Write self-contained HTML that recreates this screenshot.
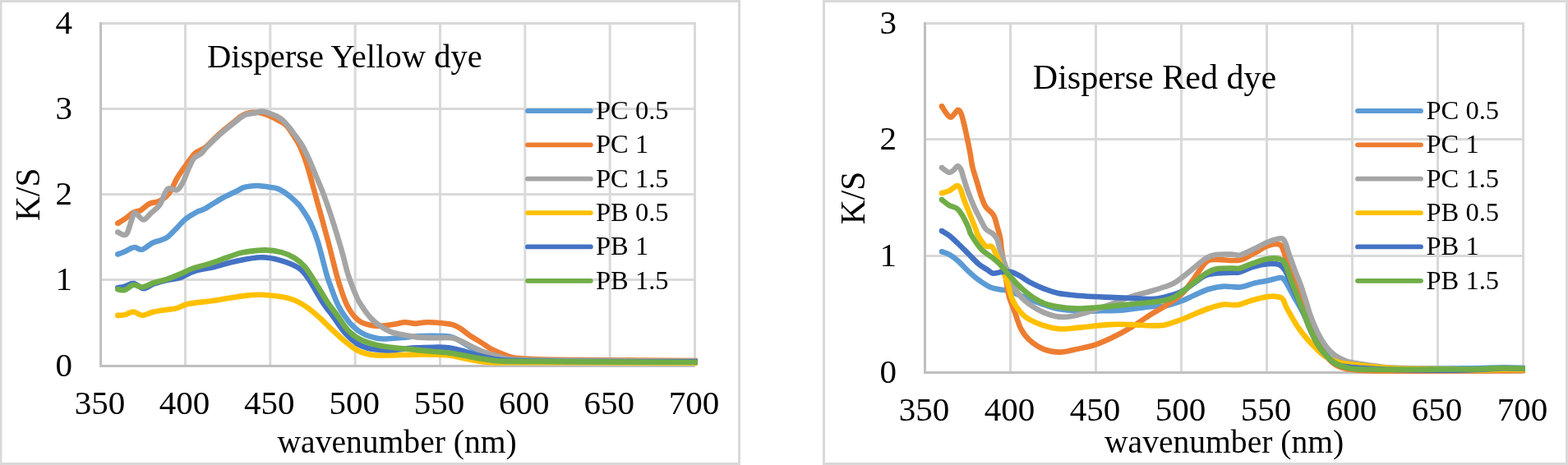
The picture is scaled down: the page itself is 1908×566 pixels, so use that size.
<!DOCTYPE html>
<html><head><meta charset="utf-8"><title>K/S charts</title>
<style>html,body{margin:0;padding:0;background:#fff;width:1908px;height:566px;overflow:hidden}svg{display:block;filter:blur(0.4px)}</style>
</head><body>
<svg width="1908" height="566" viewBox="0 0 1908 566">
<style>
.t{font-family:"Liberation Serif","Times New Roman",serif;font-size:40px;fill:#000}
.l{font-family:"Liberation Serif","Times New Roman",serif;font-size:32.5px;fill:#000}
</style>
<rect width="1908" height="566" fill="#fff"/>
<rect x="1.0" y="1.5" width="898.5" height="563" fill="#fff" stroke="#D9D9D9" stroke-width="3"/>
<line x1="225.50" y1="27.00" x2="225.50" y2="445.50" stroke="#D9D9D9" stroke-width="3"/>
<line x1="328.83" y1="27.00" x2="328.83" y2="445.50" stroke="#D9D9D9" stroke-width="3"/>
<line x1="432.17" y1="27.00" x2="432.17" y2="445.50" stroke="#D9D9D9" stroke-width="3"/>
<line x1="535.50" y1="27.00" x2="535.50" y2="445.50" stroke="#D9D9D9" stroke-width="3"/>
<line x1="638.83" y1="27.00" x2="638.83" y2="445.50" stroke="#D9D9D9" stroke-width="3"/>
<line x1="742.16" y1="27.00" x2="742.16" y2="445.50" stroke="#D9D9D9" stroke-width="3"/>
<line x1="845.50" y1="27.00" x2="845.50" y2="445.50" stroke="#D9D9D9" stroke-width="3"/>
<line x1="122.60" y1="340.40" x2="847.00" y2="340.40" stroke="#D9D9D9" stroke-width="3"/>
<line x1="122.60" y1="236.40" x2="847.00" y2="236.40" stroke="#D9D9D9" stroke-width="3"/>
<line x1="122.60" y1="132.40" x2="847.00" y2="132.40" stroke="#D9D9D9" stroke-width="3"/>
<line x1="122.60" y1="28.50" x2="847.00" y2="28.50" stroke="#D9D9D9" stroke-width="3"/>
<line x1="122.60" y1="27.00" x2="122.60" y2="447.00" stroke="#BFBFBF" stroke-width="3"/>
<line x1="122.60" y1="445.50" x2="845.70" y2="445.50" stroke="#BFBFBF" stroke-width="3"/>
<text x="121.6" y="503.7" text-anchor="middle" class="t" style="font-size:41px">350</text>
<text x="224.5" y="503.7" text-anchor="middle" class="t" style="font-size:41px">400</text>
<text x="327.8" y="503.7" text-anchor="middle" class="t" style="font-size:41px">450</text>
<text x="431.2" y="503.7" text-anchor="middle" class="t" style="font-size:41px">500</text>
<text x="534.5" y="503.7" text-anchor="middle" class="t" style="font-size:41px">550</text>
<text x="637.8" y="503.7" text-anchor="middle" class="t" style="font-size:41px">600</text>
<text x="741.2" y="503.7" text-anchor="middle" class="t" style="font-size:41px">650</text>
<text x="844.5" y="503.7" text-anchor="middle" class="t" style="font-size:41px">700</text>
<text x="88" y="457.9" text-anchor="end" class="t" style="font-size:41px">0</text>
<text x="88" y="352.8" text-anchor="end" class="t" style="font-size:41px">1</text>
<text x="88" y="248.8" text-anchor="end" class="t" style="font-size:41px">2</text>
<text x="88" y="144.8" text-anchor="end" class="t" style="font-size:41px">3</text>
<text x="88" y="40.9" text-anchor="end" class="t" style="font-size:41px">4</text>
<text transform="translate(48.1,236.7) rotate(-90)" text-anchor="middle" class="t" style="font-size:41.5px">K/S</text>
<text x="337.5" y="550.8" class="t" style="font-size:39.6px">wavenumber (nm)</text>
<text x="252" y="82.3" class="t" style="font-size:40.6px">Disperse Yellow dye</text>
<circle cx="143.3" cy="309.5" r="3.3" fill="#5B9BD5"/>
<path d="M143.3,309.5 C144.7,309.0 149.4,307.4 151.8,306.3 C154.2,305.2 155.9,303.9 158.0,303.0 C160.1,302.1 161.7,300.9 164.2,301.0 C166.7,301.1 169.5,304.6 173.0,303.7 C176.5,302.8 181.6,297.6 185.4,295.7 C189.2,293.8 192.8,293.5 196.0,292.2 C199.2,290.9 201.6,290.3 204.8,287.8 C208.0,285.3 211.9,280.8 215.4,277.2 C218.9,273.6 221.9,269.8 226.0,266.5 C230.1,263.2 236.4,259.8 240.2,257.7 C244.0,255.6 244.0,256.9 249.0,254.2 C254.0,251.5 263.6,245.1 270.0,241.5 C276.4,237.9 283.3,234.9 287.7,232.7 C292.1,230.5 293.6,229.1 296.5,228.1 C299.4,227.1 302.2,226.9 305.0,226.6 C307.8,226.2 310.6,226.0 313.3,226.0 C316.0,226.0 318.6,226.5 321.0,226.8 C323.4,227.1 324.7,227.3 327.4,227.7 C330.1,228.1 334.2,228.4 337.1,229.4 C340.1,230.4 342.3,231.6 345.1,233.4 C347.9,235.2 350.9,237.5 353.9,240.0 C356.8,242.5 360.6,246.0 362.8,248.4 C365.1,250.8 364.9,250.3 367.4,254.2 C369.9,258.1 374.7,265.0 378.0,271.8 C381.3,278.6 383.8,284.6 387.0,295.0 C390.2,305.4 394.6,324.3 397.4,334.0 C400.2,343.7 401.9,347.3 404.0,353.0 C406.1,358.7 408.0,363.8 409.8,368.0 C411.6,372.2 413.2,375.0 415.0,378.0 C416.8,381.0 418.5,383.3 420.4,386.0 C422.3,388.7 424.4,391.7 426.5,394.0 C428.6,396.3 430.7,398.2 432.8,400.0 C434.9,401.8 436.9,403.2 439.0,404.5 C441.1,405.8 442.3,406.6 445.1,407.7 C447.9,408.8 452.1,410.2 455.7,411.0 C459.3,411.8 460.9,412.5 466.5,412.5 C472.1,412.5 482.1,411.6 489.5,411.0 C496.9,410.4 502.4,409.3 510.7,409.0 C519.0,408.7 531.9,408.6 539.0,409.0 C546.1,409.4 547.5,409.2 553.1,411.5 C558.7,413.8 566.3,419.2 572.5,422.5 C578.7,425.8 584.3,428.7 590.2,431.0 C596.1,433.3 602.1,435.2 607.9,436.5 C613.7,437.8 609.6,438.0 625.0,438.5 C640.4,439.0 662.7,439.1 700.0,439.3 C737.3,439.5 824.0,439.7 848.8,439.8" fill="none" stroke="#5B9BD5" stroke-width="6.6" stroke-linecap="butt" stroke-linejoin="round"/>
<circle cx="143.3" cy="271.8" r="3.3" fill="#ED7D31"/>
<path d="M143.3,271.8 C144.7,270.9 148.6,268.7 151.8,266.5 C155.0,264.3 159.2,260.4 162.4,258.6 C165.6,256.9 168.0,257.8 171.2,256.0 C174.4,254.2 178.2,249.8 181.8,248.0 C185.4,246.2 189.2,246.6 192.5,245.3 C195.8,244.0 198.7,242.3 201.3,240.0 C204.0,237.7 206.1,235.0 208.4,231.2 C210.8,227.4 212.5,222.0 215.4,217.0 C218.3,212.0 222.5,206.3 226.0,201.3 C229.5,196.3 233.8,190.2 236.6,187.2 C239.4,184.2 240.7,184.7 243.0,183.3 C245.3,181.9 247.6,181.3 250.6,178.8 C253.6,176.3 257.7,171.6 261.2,168.3 C264.7,165.0 268.3,161.8 271.8,158.8 C275.3,155.8 278.9,153.1 282.4,150.3 C285.9,147.5 290.2,143.8 293.0,141.8 C295.8,139.8 296.8,139.1 299.4,138.3 C302.0,137.5 305.8,136.9 308.9,136.8 C312.0,136.7 314.9,136.9 317.9,137.5 C320.9,138.1 323.5,139.2 326.7,140.5 C329.9,141.8 333.4,143.5 337.0,145.5 C340.6,147.5 345.0,149.4 348.3,152.6 C351.6,155.8 354.0,160.2 356.8,164.6 C359.6,168.9 362.4,172.6 365.2,178.7 C368.0,184.8 370.3,190.4 373.7,201.3 C377.1,212.2 381.4,228.8 385.7,244.3 C390.0,259.8 395.4,279.3 399.4,294.5 C403.4,309.7 406.9,324.7 409.8,335.3 C412.7,345.9 414.9,352.1 416.9,358.0 C418.9,363.9 420.2,367.2 422.0,371.0 C423.8,374.8 425.7,377.8 427.5,380.5 C429.3,383.2 431.2,385.2 433.0,387.0 C434.8,388.8 436.3,390.0 438.1,391.2 C439.9,392.4 441.9,393.2 444.0,394.0 C446.1,394.8 448.3,395.3 450.6,395.8 C452.9,396.3 455.4,396.7 458.0,396.8 C460.6,396.9 462.7,396.9 466.5,396.5 C470.3,396.1 476.2,395.2 480.6,394.5 C485.0,393.8 488.9,392.3 493.0,392.2 C497.1,392.1 501.0,393.9 505.4,393.9 C509.8,393.9 514.2,392.3 519.5,392.2 C524.8,392.1 531.9,392.7 537.2,393.2 C542.5,393.7 547.5,394.2 551.3,395.3 C555.1,396.4 557.0,397.7 560.2,399.8 C563.5,401.9 566.7,404.9 570.8,407.7 C574.9,410.5 580.2,413.6 584.9,416.5 C589.6,419.4 594.3,422.9 599.0,425.4 C603.7,427.9 608.8,429.9 613.2,431.6 C617.6,433.3 619.0,434.6 625.5,435.5 C632.0,436.4 638.8,436.8 652.0,437.2 C665.2,437.6 672.2,437.7 705.0,438.0 C737.8,438.3 824.8,438.8 848.8,439.0" fill="none" stroke="#ED7D31" stroke-width="6.6" stroke-linecap="butt" stroke-linejoin="round"/>
<circle cx="143.3" cy="282.5" r="3.3" fill="#A5A5A5"/>
<path d="M143.3,282.5 C144.6,283.1 148.9,286.0 150.9,286.0 C152.9,286.0 153.4,286.6 155.3,282.5 C157.2,278.4 160.6,264.9 162.4,261.2 C164.2,257.5 163.9,259.4 166.0,260.4 C168.1,261.4 171.9,267.5 174.8,267.4 C177.7,267.2 180.4,262.4 183.6,259.5 C186.8,256.6 191.5,253.3 194.2,249.8 C196.8,246.3 197.7,241.7 199.5,238.3 C201.3,234.9 202.2,230.6 204.8,229.4 C207.5,228.2 212.5,232.4 215.4,231.2 C218.3,230.0 220.1,226.4 222.5,222.0 C224.9,217.6 227.5,209.6 229.6,205.0 C231.7,200.4 233.4,196.6 234.9,194.2 C236.4,191.8 236.6,192.0 238.4,190.7 C240.2,189.4 243.5,188.1 245.5,186.3 C247.5,184.5 248.0,182.9 250.6,180.1 C253.2,177.3 257.7,172.8 261.2,169.5 C264.7,166.2 268.3,163.0 271.8,160.0 C275.3,157.0 278.9,154.3 282.4,151.5 C285.9,148.7 290.2,145.0 293.0,143.0 C295.8,141.0 296.8,140.2 299.4,139.3 C302.0,138.4 305.7,138.3 308.9,137.7 C312.1,137.1 315.4,135.6 318.4,135.6 C321.4,135.6 324.1,136.8 326.9,137.7 C329.7,138.6 332.6,139.5 335.4,140.9 C338.2,142.3 341.1,143.7 343.9,146.2 C346.7,148.7 349.9,152.7 352.4,155.7 C354.9,158.7 356.2,160.7 358.7,164.2 C361.2,167.7 364.5,171.5 367.4,176.5 C370.3,181.5 373.2,187.7 376.2,194.2 C379.1,200.7 381.9,207.5 385.1,215.4 C388.4,223.3 392.2,232.1 395.7,241.8 C399.2,251.5 402.8,262.4 406.3,273.6 C409.8,284.8 414.0,298.7 416.9,309.0 C419.8,319.3 421.0,326.4 423.9,335.3 C426.8,344.2 431.8,356.4 434.5,362.5 C437.2,368.6 437.9,368.8 440.0,372.0 C442.1,375.2 444.7,379.2 446.9,382.0 C449.1,384.8 450.6,386.7 453.0,389.0 C455.4,391.3 457.5,393.3 461.2,395.8 C464.9,398.3 470.0,401.8 475.3,403.8 C480.6,405.8 487.7,406.9 493.0,408.0 C498.3,409.1 501.2,409.9 507.1,410.4 C513.0,410.9 521.3,411.1 528.4,411.2 C535.5,411.3 544.3,410.6 549.6,411.2 C554.9,411.8 556.4,413.2 560.2,414.8 C564.0,416.4 567.5,418.6 572.5,421.0 C577.5,423.4 584.3,426.7 590.2,428.9 C596.1,431.1 602.0,432.8 607.9,434.2 C613.8,435.6 610.1,436.7 625.5,437.5 C640.9,438.3 662.8,438.5 700.0,438.8 C737.2,439.1 824.0,439.4 848.8,439.5" fill="none" stroke="#A5A5A5" stroke-width="6.6" stroke-linecap="butt" stroke-linejoin="round"/>
<circle cx="143.3" cy="383.9" r="3.3" fill="#FFC000"/>
<path d="M143.3,383.9 C144.7,383.8 148.6,383.8 151.8,383.1 C155.0,382.4 158.9,379.4 162.4,379.5 C165.9,379.6 168.9,383.9 173.0,383.9 C177.1,383.9 182.1,380.7 187.1,379.5 C192.1,378.3 198.4,377.6 203.1,376.9 C207.8,376.2 211.0,376.3 215.4,375.1 C219.8,373.9 222.5,371.3 229.6,369.8 C236.7,368.3 249.6,367.5 257.8,366.3 C266.0,365.1 272.5,363.7 279.0,362.7 C285.5,361.7 290.2,360.8 296.7,360.1 C303.2,359.5 310.5,358.7 317.9,358.8 C325.3,358.9 335.6,360.4 340.9,361.0 C346.2,361.6 346.2,361.7 349.7,362.7 C353.2,363.7 357.7,364.9 362.1,367.1 C366.5,369.3 371.5,372.3 376.2,375.8 C380.9,379.3 386.0,384.0 390.4,388.0 C394.8,392.0 397.7,395.3 402.7,400.0 C407.7,404.7 415.1,411.6 420.4,416.0 C425.7,420.4 430.1,423.9 434.5,426.3 C438.9,428.8 443.0,429.7 446.9,430.7 C450.8,431.7 453.0,432.2 457.7,432.5 C462.4,432.8 467.9,432.6 475.3,432.5 C482.7,432.4 493.0,431.8 501.8,431.6 C510.6,431.5 521.0,431.5 528.4,431.6 C535.8,431.8 540.1,431.8 546.0,432.5 C551.9,433.2 557.8,434.8 563.7,436.0 C569.6,437.2 575.5,438.6 581.4,439.5 C587.3,440.4 593.1,441.0 599.0,441.3 C604.9,441.6 599.9,441.3 616.7,441.3 C633.5,441.3 661.3,441.2 700.0,441.3 C738.7,441.4 824.0,441.6 848.8,441.6" fill="none" stroke="#FFC000" stroke-width="6.6" stroke-linecap="butt" stroke-linejoin="round"/>
<circle cx="143.3" cy="350.4" r="3.3" fill="#4472C4"/>
<path d="M143.3,350.4 C144.7,350.1 148.6,349.5 151.8,348.6 C155.0,347.7 158.6,344.7 162.4,345.1 C166.2,345.5 170.7,351.1 174.8,351.2 C178.9,351.3 182.4,347.2 187.1,345.5 C191.8,343.8 197.8,342.2 203.1,341.0 C208.4,339.8 213.4,339.8 219.0,338.0 C224.6,336.2 229.5,332.2 236.6,330.0 C243.7,327.8 252.8,326.8 261.4,324.7 C269.9,322.6 278.5,319.6 287.9,317.7 C297.3,315.8 309.1,313.4 317.9,313.3 C326.7,313.2 333.2,314.6 340.9,316.8 C348.6,319.0 358.0,322.5 363.9,326.5 C369.8,330.5 371.5,333.8 376.2,340.6 C380.9,347.4 387.1,359.5 392.1,367.1 C397.1,374.8 401.6,380.0 406.3,386.5 C411.0,393.0 415.7,400.6 420.4,405.9 C425.1,411.2 430.1,415.4 434.5,418.3 C438.9,421.2 443.0,422.4 446.9,423.6 C450.8,424.8 453.0,424.9 457.7,425.4 C462.4,425.8 467.9,426.6 475.3,426.3 C482.7,426.0 493.0,424.2 501.8,423.6 C510.6,423.0 521.0,422.8 528.4,422.7 C535.8,422.6 540.1,422.6 546.0,423.3 C551.9,424.1 557.8,425.7 563.7,427.2 C569.6,428.7 575.5,430.9 581.4,432.5 C587.3,434.1 593.1,435.5 599.0,436.5 C604.9,437.5 599.9,437.9 616.7,438.5 C633.5,439.1 661.3,439.7 700.0,440.0 C738.7,440.3 824.0,440.2 848.8,440.3" fill="none" stroke="#4472C4" stroke-width="6.6" stroke-linecap="butt" stroke-linejoin="round"/>
<circle cx="143.3" cy="352.1" r="3.3" fill="#70AD47"/>
<path d="M143.3,352.1 C144.7,352.2 148.6,353.9 151.8,353.0 C155.0,352.1 158.9,347.4 162.4,346.8 C165.9,346.2 168.9,349.9 173.0,349.5 C177.1,349.1 182.1,345.8 187.1,344.2 C192.1,342.6 197.8,341.6 203.1,339.8 C208.4,338.0 213.7,335.8 219.0,333.6 C224.3,331.4 229.0,328.6 234.9,326.5 C240.8,324.4 247.0,323.6 254.3,321.2 C261.7,318.8 271.9,314.8 279.0,312.4 C286.1,310.0 289.3,308.4 296.7,307.1 C304.1,305.8 315.5,304.4 323.2,304.4 C330.9,304.4 336.8,305.5 342.7,307.1 C348.6,308.7 353.9,311.2 358.6,314.1 C363.3,317.0 366.5,319.4 370.9,324.7 C375.3,330.0 380.4,338.5 385.1,345.9 C389.8,353.3 395.1,362.7 399.2,368.9 C403.3,375.1 405.7,377.4 409.8,383.0 C413.9,388.6 419.2,397.4 423.9,402.4 C428.6,407.4 432.8,410.2 438.1,413.0 C443.4,415.8 449.5,417.6 455.7,419.2 C461.9,420.8 467.6,421.7 475.3,422.7 C483.0,423.7 493.0,424.5 501.8,425.4 C510.6,426.3 521.0,427.3 528.4,428.0 C535.8,428.7 540.1,428.6 546.0,429.4 C551.9,430.1 557.8,431.4 563.7,432.5 C569.6,433.6 575.5,435.0 581.4,436.0 C587.3,437.0 593.1,438.0 599.0,438.6 C604.9,439.2 599.9,439.6 616.7,439.9 C633.5,440.2 661.3,440.1 700.0,440.3 C738.7,440.5 824.0,440.9 848.8,441.0" fill="none" stroke="#70AD47" stroke-width="6.6" stroke-linecap="butt" stroke-linejoin="round"/>
<line x1="642" y1="135.0" x2="718.8" y2="135.0" stroke="#5B9BD5" stroke-width="5.8" stroke-linecap="round"/>
<text x="725" y="144.9" class="l">PC 0.5</text>
<line x1="642" y1="176.3" x2="718.8" y2="176.3" stroke="#ED7D31" stroke-width="5.8" stroke-linecap="round"/>
<text x="725" y="186.2" class="l">PC 1</text>
<line x1="642" y1="217.7" x2="718.8" y2="217.7" stroke="#A5A5A5" stroke-width="5.8" stroke-linecap="round"/>
<text x="725" y="227.6" class="l">PC 1.5</text>
<line x1="642" y1="259.1" x2="718.8" y2="259.1" stroke="#FFC000" stroke-width="5.8" stroke-linecap="round"/>
<text x="725" y="268.9" class="l">PB 0.5</text>
<line x1="642" y1="300.4" x2="718.8" y2="300.4" stroke="#4472C4" stroke-width="5.8" stroke-linecap="round"/>
<text x="725" y="310.3" class="l">PB 1</text>
<line x1="642" y1="341.8" x2="718.8" y2="341.8" stroke="#70AD47" stroke-width="5.8" stroke-linecap="round"/>
<text x="725" y="351.6" class="l">PB 1.5</text>
<rect x="1002.5" y="1.5" width="904.0" height="563" fill="#fff" stroke="#D9D9D9" stroke-width="3"/>
<line x1="1229.50" y1="27.00" x2="1229.50" y2="453.50" stroke="#D9D9D9" stroke-width="3"/>
<line x1="1333.50" y1="27.00" x2="1333.50" y2="453.50" stroke="#D9D9D9" stroke-width="3"/>
<line x1="1437.50" y1="27.00" x2="1437.50" y2="453.50" stroke="#D9D9D9" stroke-width="3"/>
<line x1="1541.50" y1="27.00" x2="1541.50" y2="453.50" stroke="#D9D9D9" stroke-width="3"/>
<line x1="1645.50" y1="27.00" x2="1645.50" y2="453.50" stroke="#D9D9D9" stroke-width="3"/>
<line x1="1749.50" y1="27.00" x2="1749.50" y2="453.50" stroke="#D9D9D9" stroke-width="3"/>
<line x1="1853.50" y1="27.00" x2="1853.50" y2="453.50" stroke="#D9D9D9" stroke-width="3"/>
<line x1="1125.50" y1="311.50" x2="1855.00" y2="311.50" stroke="#D9D9D9" stroke-width="3"/>
<line x1="1125.50" y1="169.50" x2="1855.00" y2="169.50" stroke="#D9D9D9" stroke-width="3"/>
<line x1="1125.50" y1="28.50" x2="1855.00" y2="28.50" stroke="#D9D9D9" stroke-width="3"/>
<line x1="1125.50" y1="27.00" x2="1125.50" y2="455.00" stroke="#BFBFBF" stroke-width="3"/>
<line x1="1125.50" y1="453.50" x2="1853.70" y2="453.50" stroke="#BFBFBF" stroke-width="3"/>
<text x="1124.5" y="511.6" text-anchor="middle" class="t" style="font-size:41px">350</text>
<text x="1228.5" y="511.6" text-anchor="middle" class="t" style="font-size:41px">400</text>
<text x="1332.5" y="511.6" text-anchor="middle" class="t" style="font-size:41px">450</text>
<text x="1436.5" y="511.6" text-anchor="middle" class="t" style="font-size:41px">500</text>
<text x="1540.5" y="511.6" text-anchor="middle" class="t" style="font-size:41px">550</text>
<text x="1644.5" y="511.6" text-anchor="middle" class="t" style="font-size:41px">600</text>
<text x="1748.5" y="511.6" text-anchor="middle" class="t" style="font-size:41px">650</text>
<text x="1852.5" y="511.6" text-anchor="middle" class="t" style="font-size:41px">700</text>
<text x="1091" y="465.9" text-anchor="end" class="t" style="font-size:41px">0</text>
<text x="1091" y="323.9" text-anchor="end" class="t" style="font-size:41px">1</text>
<text x="1091" y="181.9" text-anchor="end" class="t" style="font-size:41px">2</text>
<text x="1091" y="40.9" text-anchor="end" class="t" style="font-size:41px">3</text>
<text transform="translate(1051.7,241) rotate(-90)" text-anchor="middle" class="t" style="font-size:41.5px">K/S</text>
<text x="1344" y="550.6" class="t" style="font-size:39.6px">wavenumber (nm)</text>
<text x="1256.8" y="108.1" class="t" style="font-size:42px">Disperse Red dye</text>
<circle cx="1146.0" cy="306.2" r="3.3" fill="#5B9BD5"/>
<path d="M1146.0,306.2 C1147.5,306.8 1152.0,307.9 1155.3,309.8 C1158.6,311.7 1162.1,314.3 1165.9,317.7 C1169.7,321.1 1174.2,326.3 1178.3,330.1 C1182.4,333.9 1186.3,337.5 1190.7,340.7 C1195.1,343.9 1200.4,347.5 1204.8,349.5 C1209.2,351.5 1213.7,351.8 1217.2,352.5 C1220.7,353.2 1223.0,352.8 1226.0,353.5 C1229.0,354.2 1231.4,355.6 1234.9,357.0 C1238.4,358.4 1241.9,359.9 1247.2,362.0 C1252.5,364.1 1259.9,367.2 1266.7,369.5 C1273.5,371.8 1280.0,374.5 1287.9,376.0 C1295.9,377.5 1305.6,378.1 1314.4,378.5 C1323.2,378.9 1332.1,378.5 1340.9,378.3 C1349.7,378.1 1357.6,378.2 1367.4,377.4 C1377.2,376.6 1391.6,374.1 1400.0,373.3 C1408.4,372.5 1411.5,373.5 1417.7,372.4 C1424.0,371.3 1431.6,368.6 1437.5,366.5 C1443.4,364.4 1447.5,361.9 1453.0,359.5 C1458.5,357.1 1464.8,353.8 1470.7,352.0 C1476.6,350.2 1481.9,349.0 1488.3,348.6 C1494.7,348.2 1502.8,350.1 1508.9,349.5 C1515.0,348.9 1519.2,346.4 1524.8,345.1 C1530.4,343.8 1536.9,342.8 1542.5,341.6 C1548.1,340.4 1554.9,337.9 1558.4,338.0 C1561.9,338.1 1561.9,339.8 1563.7,342.0 C1565.5,344.2 1567.1,347.7 1569.0,351.0 C1570.9,354.3 1572.8,358.2 1575.0,362.0 C1577.2,365.8 1579.6,369.7 1582.0,374.0 C1584.4,378.3 1587.1,383.6 1589.5,388.0 C1591.9,392.4 1593.4,394.5 1596.5,400.5 C1599.6,406.5 1604.4,418.1 1608.0,424.0 C1611.6,429.9 1614.0,432.8 1618.0,436.0 C1622.0,439.2 1625.0,441.8 1632.0,443.5 C1639.0,445.2 1648.7,445.7 1660.0,446.5 C1671.3,447.3 1678.3,448.0 1700.0,448.3 C1721.7,448.6 1768.3,448.5 1790.0,448.3 C1811.7,448.1 1819.0,447.4 1830.0,447.3 C1841.0,447.2 1851.6,447.9 1855.9,448.0" fill="none" stroke="#5B9BD5" stroke-width="6.6" stroke-linecap="butt" stroke-linejoin="round"/>
<circle cx="1146.0" cy="129.4" r="3.3" fill="#ED7D31"/>
<path d="M1146.0,129.4 C1147.0,130.9 1150.0,136.1 1151.8,138.3 C1153.6,140.5 1155.5,142.7 1157.1,142.7 C1158.7,142.7 1160.0,139.8 1161.5,138.3 C1163.0,136.8 1164.6,133.9 1165.9,133.9 C1167.2,133.9 1168.3,135.5 1169.5,138.3 C1170.7,141.1 1171.8,145.9 1173.0,150.6 C1174.2,155.3 1175.3,160.9 1176.5,166.5 C1177.7,172.1 1178.9,177.9 1180.1,184.2 C1181.3,190.5 1182.1,197.8 1183.6,204.1 C1185.1,210.4 1187.1,215.9 1188.9,221.8 C1190.7,227.7 1192.4,234.5 1194.2,239.5 C1196.0,244.5 1197.4,248.6 1199.5,251.8 C1201.6,255.0 1204.8,256.8 1206.6,258.9 C1208.4,261.0 1208.9,261.2 1210.1,264.2 C1211.3,267.1 1212.5,272.3 1213.7,276.6 C1214.9,280.9 1216.3,285.2 1217.2,290.0 C1218.1,294.8 1217.8,296.9 1219.0,305.3 C1220.2,313.8 1222.8,331.5 1224.3,340.7 C1225.8,349.9 1226.0,354.1 1227.8,360.6 C1229.6,367.2 1232.5,373.4 1234.9,380.0 C1237.3,386.6 1239.2,394.3 1242.2,400.0 C1245.2,405.7 1248.1,409.8 1252.8,414.0 C1257.5,418.2 1264.1,422.7 1270.2,425.1 C1276.3,427.5 1283.7,428.5 1289.6,428.6 C1295.5,428.8 1298.4,427.5 1305.5,426.0 C1312.6,424.5 1323.8,422.4 1332.1,419.8 C1340.3,417.2 1347.7,413.6 1355.0,410.1 C1362.3,406.6 1368.7,403.1 1376.2,398.6 C1383.7,394.1 1393.1,387.4 1400.0,383.0 C1406.9,378.6 1411.5,376.5 1417.7,372.4 C1424.0,368.3 1431.6,363.9 1437.5,358.3 C1443.4,352.7 1448.1,345.4 1453.0,338.9 C1457.9,332.4 1462.7,323.2 1467.1,319.4 C1471.5,315.6 1472.8,316.3 1479.5,315.9 C1486.2,315.5 1499.5,318.0 1507.1,316.8 C1514.6,315.6 1518.9,311.8 1524.8,308.9 C1530.7,306.0 1537.2,301.1 1542.5,299.2 C1547.8,297.3 1553.4,296.4 1556.6,297.4 C1559.8,298.4 1559.8,300.1 1561.9,305.3 C1564.0,310.5 1566.0,320.3 1569.0,328.3 C1572.0,336.3 1576.6,346.2 1579.6,353.1 C1582.5,360.1 1583.6,361.9 1586.7,370.0 C1589.8,378.1 1594.1,392.3 1598.0,402.0 C1601.9,411.7 1605.5,421.0 1610.0,428.0 C1614.5,435.0 1619.2,440.3 1625.0,444.0 C1630.8,447.7 1635.8,448.8 1645.0,450.0 C1654.2,451.2 1654.2,451.2 1680.0,451.5 C1705.8,451.8 1775.0,451.6 1800.0,451.5 C1825.0,451.4 1820.7,451.3 1830.0,451.2 C1839.3,451.1 1851.6,451.0 1855.9,451.0" fill="none" stroke="#ED7D31" stroke-width="6.6" stroke-linecap="butt" stroke-linejoin="round"/>
<circle cx="1146.0" cy="204.1" r="3.3" fill="#A5A5A5"/>
<path d="M1146.0,204.1 C1147.5,205.1 1152.9,209.6 1155.3,210.0 C1157.7,210.4 1158.9,208.1 1160.6,206.8 C1162.3,205.5 1164.0,202.0 1165.5,202.0 C1167.0,202.0 1168.2,204.1 1169.5,206.8 C1170.8,209.5 1171.5,213.7 1173.0,218.3 C1174.5,222.9 1176.2,228.6 1178.3,234.2 C1180.4,239.8 1183.0,246.5 1185.4,251.8 C1187.8,257.1 1190.2,261.5 1192.5,266.0 C1194.8,270.5 1196.8,275.5 1199.5,278.6 C1202.2,281.7 1206.0,282.6 1208.4,284.8 C1210.8,287.0 1212.2,288.6 1213.7,292.0 C1215.2,295.4 1215.2,298.9 1217.2,305.3 C1219.2,311.7 1223.0,322.4 1226.0,330.1 C1229.0,337.8 1231.4,345.5 1234.9,351.5 C1238.4,357.5 1241.9,361.4 1247.2,366.0 C1252.5,370.6 1260.5,375.6 1266.7,378.8 C1272.9,382.0 1278.4,383.9 1284.3,385.0 C1290.2,386.1 1295.5,386.1 1302.0,385.3 C1308.5,384.5 1315.2,382.4 1323.2,380.0 C1331.2,377.6 1340.9,374.3 1349.7,371.2 C1358.5,368.1 1367.8,364.0 1376.2,361.2 C1384.6,358.4 1393.1,356.5 1400.0,354.5 C1406.9,352.5 1413.0,350.6 1417.7,349.0 C1422.4,347.4 1425.0,346.6 1428.3,344.8 C1431.6,343.1 1433.4,341.6 1437.5,338.5 C1441.6,335.4 1448.1,330.0 1453.0,326.0 C1457.9,322.0 1462.7,317.2 1467.1,314.5 C1471.5,311.8 1474.0,310.8 1479.5,310.0 C1485.0,309.2 1495.1,309.6 1500.0,309.7 C1504.9,309.8 1504.8,311.6 1508.9,310.6 C1513.0,309.6 1519.2,306.2 1524.8,303.6 C1530.4,301.0 1536.9,296.9 1542.5,294.7 C1548.1,292.5 1554.9,290.3 1558.4,290.3 C1561.9,290.3 1561.9,291.3 1563.7,294.7 C1565.5,298.1 1566.9,304.7 1569.0,310.6 C1571.1,316.5 1573.8,323.9 1576.1,330.1 C1578.4,336.3 1580.8,341.2 1583.1,347.8 C1585.4,354.4 1588.3,364.1 1590.2,370.0 C1592.1,375.9 1592.1,377.3 1594.2,383.0 C1596.3,388.7 1599.8,397.7 1603.0,404.2 C1606.2,410.7 1610.1,417.1 1613.6,421.8 C1617.1,426.5 1620.1,429.4 1624.2,432.4 C1628.3,435.3 1633.0,437.7 1638.3,439.5 C1643.6,441.3 1650.1,442.0 1656.0,443.0 C1661.9,444.0 1666.4,444.7 1673.7,445.5 C1681.0,446.3 1680.6,447.1 1700.0,447.8 C1719.4,448.5 1768.3,449.4 1790.0,449.5 C1811.7,449.6 1819.0,448.6 1830.0,448.5 C1841.0,448.4 1851.6,448.8 1855.9,448.8" fill="none" stroke="#A5A5A5" stroke-width="6.6" stroke-linecap="butt" stroke-linejoin="round"/>
<circle cx="1146.0" cy="235.1" r="3.3" fill="#FFC000"/>
<path d="M1146.0,235.1 C1147.5,234.6 1152.3,233.6 1155.3,232.1 C1158.3,230.6 1162.0,226.6 1164.2,226.2 C1166.4,225.8 1167.1,227.0 1168.6,229.8 C1170.1,232.6 1171.1,237.8 1173.0,243.0 C1174.9,248.2 1177.8,254.8 1180.1,260.7 C1182.4,266.6 1185.3,273.9 1187.1,278.4 C1188.9,282.9 1188.6,284.2 1190.7,287.7 C1192.8,291.2 1196.8,297.4 1199.5,299.5 C1202.2,301.6 1204.5,298.4 1206.6,300.0 C1208.7,301.6 1209.8,304.8 1211.9,308.9 C1214.0,313.0 1216.7,318.9 1219.0,324.8 C1221.3,330.7 1223.7,337.2 1226.0,344.2 C1228.3,351.2 1229.6,360.1 1233.1,367.0 C1236.6,373.9 1241.6,380.6 1247.2,385.3 C1252.8,390.0 1259.6,392.6 1266.7,395.1 C1273.8,397.6 1281.6,399.8 1289.6,400.4 C1297.5,401.0 1304.4,399.5 1314.4,398.6 C1324.4,397.7 1339.4,395.7 1349.7,395.1 C1360.0,394.5 1367.8,394.9 1376.2,395.1 C1384.6,395.3 1393.1,396.2 1400.0,396.3 C1406.9,396.4 1411.5,396.6 1417.7,395.4 C1424.0,394.2 1431.6,391.1 1437.5,389.0 C1443.4,386.9 1447.5,384.8 1453.0,382.5 C1458.5,380.2 1464.8,377.5 1470.7,375.5 C1476.6,373.5 1482.5,371.4 1488.3,370.7 C1494.1,370.0 1500.2,371.8 1505.4,371.2 C1510.6,370.6 1514.5,368.3 1519.5,366.8 C1524.5,365.3 1530.4,363.4 1535.4,362.4 C1540.4,361.4 1545.5,360.5 1549.6,360.6 C1553.7,360.8 1557.6,361.2 1560.2,363.3 C1562.8,365.4 1563.0,369.7 1565.0,373.5 C1567.0,377.3 1569.5,381.8 1572.0,386.0 C1574.5,390.2 1577.0,394.7 1580.0,399.0 C1583.0,403.3 1586.5,407.9 1590.0,412.0 C1593.5,416.1 1597.1,419.9 1600.8,423.5 C1604.5,427.1 1607.2,430.5 1612.0,433.5 C1616.8,436.5 1622.2,439.4 1629.5,441.3 C1636.8,443.2 1644.2,443.6 1656.0,444.8 C1667.8,446.0 1682.7,447.9 1700.0,448.6 C1717.3,449.3 1743.3,448.9 1760.0,449.2 C1776.7,449.5 1787.5,450.4 1800.0,450.5 C1812.5,450.6 1825.7,449.7 1835.0,449.6 C1844.3,449.5 1852.4,449.9 1855.9,450.0" fill="none" stroke="#FFC000" stroke-width="6.6" stroke-linecap="butt" stroke-linejoin="round"/>
<circle cx="1146.0" cy="281.0" r="3.3" fill="#4472C4"/>
<path d="M1146.0,281.0 C1147.5,282.0 1152.0,284.2 1155.3,286.8 C1158.6,289.4 1162.1,292.8 1165.9,296.5 C1169.7,300.2 1174.2,304.8 1178.3,308.9 C1182.4,313.0 1186.9,318.0 1190.7,321.2 C1194.5,324.4 1198.3,326.4 1201.3,328.3 C1204.2,330.2 1205.5,332.2 1208.4,332.7 C1211.4,333.1 1215.5,331.3 1219.0,331.0 C1222.5,330.7 1226.1,330.3 1229.6,331.0 C1233.1,331.7 1236.1,333.2 1240.2,335.4 C1244.3,337.6 1249.3,341.5 1254.3,344.2 C1259.3,346.9 1264.6,349.2 1270.2,351.3 C1275.8,353.4 1280.5,355.6 1287.9,357.0 C1295.3,358.4 1305.6,359.2 1314.4,360.0 C1323.2,360.8 1332.1,361.1 1340.9,361.5 C1349.7,361.9 1357.6,362.1 1367.4,362.5 C1377.2,362.9 1391.6,364.2 1400.0,364.0 C1408.4,363.8 1411.5,363.0 1417.7,361.5 C1424.0,360.0 1431.6,357.8 1437.5,355.0 C1443.4,352.2 1448.1,347.8 1453.0,344.5 C1457.9,341.2 1462.7,337.3 1467.1,335.3 C1471.5,333.3 1474.0,333.3 1479.5,332.7 C1485.0,332.1 1495.1,332.1 1500.0,331.8 C1504.9,331.5 1504.8,332.2 1508.9,331.0 C1513.0,329.8 1519.2,326.4 1524.8,324.8 C1530.4,323.2 1537.2,321.6 1542.5,321.2 C1547.8,320.8 1553.1,320.8 1556.6,322.1 C1560.1,323.4 1561.8,326.4 1563.7,329.0 C1565.6,331.6 1566.3,334.2 1568.0,338.0 C1569.7,341.8 1572.0,347.3 1574.0,352.0 C1576.0,356.7 1577.8,360.8 1580.0,366.0 C1582.2,371.2 1584.7,377.2 1587.0,383.0 C1589.3,388.8 1591.3,394.7 1594.0,400.6 C1596.7,406.5 1599.8,413.2 1603.0,418.5 C1606.2,423.8 1609.7,428.4 1613.5,432.5 C1617.3,436.6 1620.8,440.6 1626.0,443.0 C1631.2,445.4 1632.7,445.8 1645.0,447.0 C1657.3,448.2 1675.8,449.4 1700.0,450.0 C1724.2,450.6 1768.3,450.6 1790.0,450.3 C1811.7,450.0 1819.0,448.5 1830.0,448.3 C1841.0,448.1 1851.6,448.9 1855.9,449.0" fill="none" stroke="#4472C4" stroke-width="6.6" stroke-linecap="butt" stroke-linejoin="round"/>
<circle cx="1146.0" cy="243.0" r="3.3" fill="#70AD47"/>
<path d="M1146.0,243.0 C1147.5,244.2 1152.3,248.3 1155.3,250.1 C1158.3,251.9 1161.5,251.5 1164.2,253.6 C1166.9,255.7 1168.9,258.7 1171.2,262.5 C1173.5,266.3 1176.5,272.7 1178.3,276.6 C1180.1,280.5 1179.1,281.4 1181.8,285.9 C1184.5,290.4 1189.8,298.9 1194.2,303.6 C1198.6,308.3 1204.3,310.8 1208.4,314.2 C1212.5,317.6 1215.5,320.2 1219.0,324.0 C1222.5,327.8 1225.5,332.4 1229.6,337.0 C1233.7,341.6 1239.0,347.2 1243.7,351.5 C1248.4,355.8 1252.5,359.2 1257.8,362.5 C1263.1,365.8 1269.0,369.0 1275.5,371.0 C1282.0,373.0 1290.2,373.9 1296.7,374.7 C1303.2,375.5 1305.6,375.9 1314.4,375.6 C1323.2,375.3 1339.4,373.9 1349.7,373.0 C1360.0,372.1 1367.8,371.1 1376.2,370.3 C1384.6,369.5 1393.1,368.8 1400.0,368.0 C1406.9,367.2 1413.0,366.4 1417.7,365.4 C1422.4,364.4 1425.0,363.6 1428.3,362.0 C1431.6,360.4 1433.4,359.0 1437.5,356.0 C1441.6,353.0 1448.1,347.8 1453.0,344.0 C1457.9,340.2 1462.7,335.8 1467.1,333.0 C1471.5,330.2 1474.0,328.5 1479.5,327.4 C1485.0,326.3 1495.1,326.6 1500.0,326.5 C1504.9,326.4 1504.8,327.5 1508.9,326.5 C1513.0,325.5 1519.2,322.3 1524.8,320.4 C1530.4,318.5 1537.2,316.0 1542.5,315.1 C1547.8,314.2 1553.1,314.1 1556.6,315.1 C1560.1,316.1 1561.3,316.9 1563.7,321.2 C1566.1,325.5 1568.4,334.2 1570.8,340.7 C1573.2,347.2 1575.9,353.8 1578.3,360.0 C1580.7,366.2 1582.6,370.9 1585.3,377.7 C1588.0,384.5 1591.2,393.8 1594.2,400.6 C1597.2,407.4 1599.8,413.0 1603.0,418.3 C1606.2,423.6 1609.8,428.3 1613.6,432.4 C1617.4,436.5 1621.3,440.4 1626.0,443.0 C1630.7,445.6 1635.4,447.2 1641.9,448.3 C1648.4,449.4 1648.2,449.6 1664.8,449.8 C1681.4,450.0 1719.8,449.7 1741.5,449.6 C1763.2,449.5 1780.2,449.7 1795.0,449.4 C1809.8,449.1 1819.8,448.1 1830.0,448.0 C1840.2,447.9 1851.6,448.7 1855.9,448.8" fill="none" stroke="#70AD47" stroke-width="6.6" stroke-linecap="butt" stroke-linejoin="round"/>
<line x1="1652" y1="135.0" x2="1729" y2="135.0" stroke="#5B9BD5" stroke-width="5.8" stroke-linecap="round"/>
<text x="1735.5" y="144.9" class="l">PC 0.5</text>
<line x1="1652" y1="176.3" x2="1729" y2="176.3" stroke="#ED7D31" stroke-width="5.8" stroke-linecap="round"/>
<text x="1735.5" y="186.2" class="l">PC 1</text>
<line x1="1652" y1="217.7" x2="1729" y2="217.7" stroke="#A5A5A5" stroke-width="5.8" stroke-linecap="round"/>
<text x="1735.5" y="227.6" class="l">PC 1.5</text>
<line x1="1652" y1="259.1" x2="1729" y2="259.1" stroke="#FFC000" stroke-width="5.8" stroke-linecap="round"/>
<text x="1735.5" y="268.9" class="l">PB 0.5</text>
<line x1="1652" y1="300.4" x2="1729" y2="300.4" stroke="#4472C4" stroke-width="5.8" stroke-linecap="round"/>
<text x="1735.5" y="310.3" class="l">PB 1</text>
<line x1="1652" y1="341.8" x2="1729" y2="341.8" stroke="#70AD47" stroke-width="5.8" stroke-linecap="round"/>
<text x="1735.5" y="351.6" class="l">PB 1.5</text>
</svg>
</body></html>
